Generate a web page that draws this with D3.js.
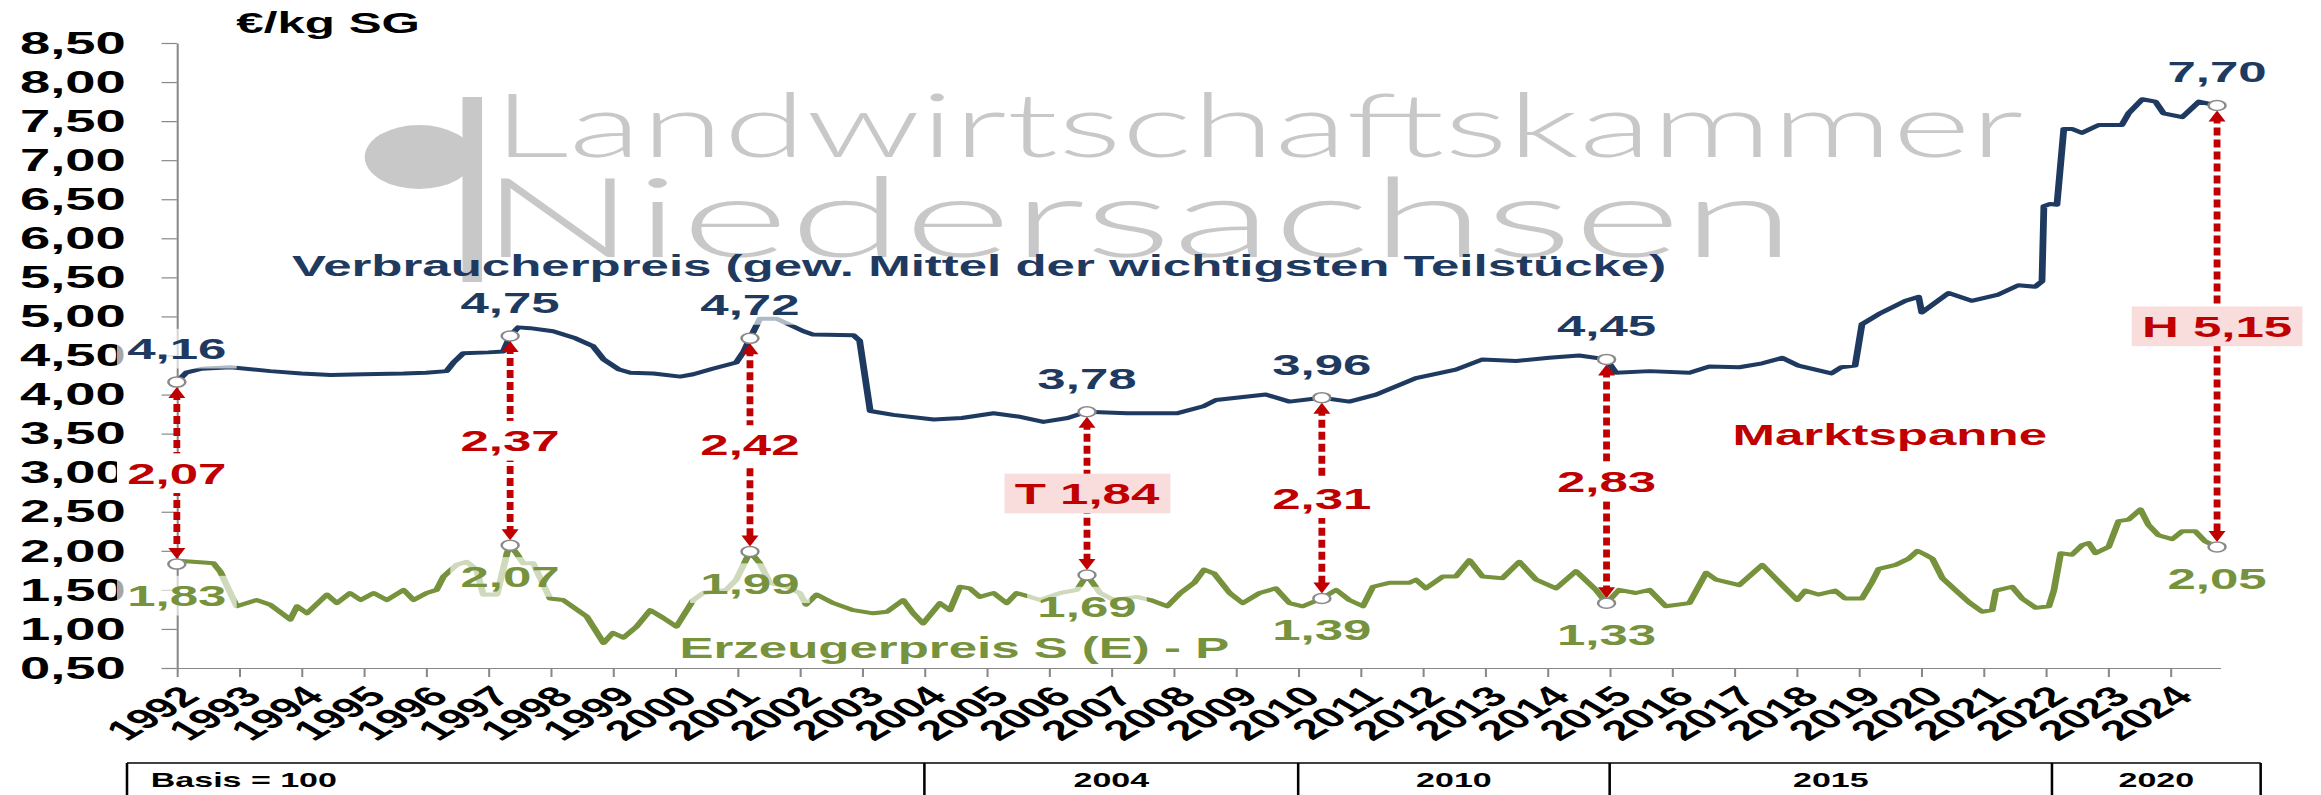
<!DOCTYPE html>
<html>
<head>
<meta charset="utf-8">
<script src="https://cdn.jsdelivr.net/npm/d3@7"></script>
<style>
html, body { margin: 0; padding: 0; background: #fff; overflow: hidden; }
svg { display: block; }
text { font-family: "Liberation Sans", Arial, sans-serif; font-weight: bold; }
</style>
</head>
<body>
<div id="chart"></div>
<script>
// Verbraucherpreis (consumer price), decimal year -> €/kg
const consumerDates = [1992.00, 1992.15, 1992.40, 1992.86, 1993.50, 1994.00, 1994.47, 1995.00, 1995.64, 1996.00,
    1996.33, 1996.44, 1996.60, 1997.00, 1997.24, 1997.35, 1997.48, 1997.67, 1998.04, 1998.40,
    1998.68, 1998.85, 1999.10, 1999.28, 1999.65, 2000.08, 2000.29, 2000.60, 2000.98, 2001.10,
    2001.20, 2001.36, 2001.63, 2002.06, 2002.21, 2002.86, 2002.96, 2003.13, 2003.50, 2004.15,
    2004.60, 2005.11, 2005.50, 2005.91, 2006.30, 2006.61, 2007.25, 2008.05, 2008.48, 2008.68,
    2009.48, 2009.86, 2010.38, 2010.82, 2011.25, 2011.89, 2012.53, 2012.96, 2013.50, 2014.03,
    2014.51, 2014.95, 2015.10, 2015.64, 2016.28, 2016.60, 2017.08, 2017.45, 2017.77, 2018.03,
    2018.56, 2018.72, 2018.94, 2019.05, 2019.32, 2019.75, 2019.96, 2020.01, 2020.44, 2020.81,
    2021.24, 2021.56, 2021.83, 2021.94, 2021.97, 2022.07, 2022.18, 2022.29, 2022.42, 2022.58,
    2022.85, 2023.22, 2023.33, 2023.55, 2023.76, 2023.89, 2024.19, 2024.46, 2024.75]
const consumerPrices = [4.16, 4.28, 4.33, 4.35, 4.30, 4.27, 4.25, 4.26, 4.27, 4.28,
    4.30, 4.41, 4.53, 4.54, 4.55, 4.75, 4.86, 4.85, 4.81, 4.72,
    4.62, 4.45, 4.32, 4.28, 4.27, 4.23, 4.26, 4.33, 4.41, 4.55,
    4.72, 4.97, 4.97, 4.81, 4.77, 4.76, 4.69, 3.79, 3.74, 3.68,
    3.70, 3.76, 3.72, 3.65, 3.70, 3.78, 3.76, 3.76, 3.85, 3.93,
    4.00, 3.91, 3.96, 3.91, 4.00, 4.21, 4.32, 4.45, 4.43, 4.47,
    4.50, 4.45, 4.28, 4.30, 4.28, 4.36, 4.35, 4.40, 4.47, 4.37,
    4.27, 4.35, 4.37, 4.90, 5.03, 5.20, 5.25, 5.05, 5.30, 5.20,
    5.28, 5.40, 5.38, 5.45, 6.41, 6.44, 6.43, 7.40, 7.40, 7.35,
    7.45, 7.45, 7.60, 7.78, 7.75, 7.60, 7.55, 7.75, 7.70]

// Erzeugerpreis S (E) - P (producer price)
const producerDates = [1992.00, 1992.08, 1992.43, 1992.59, 1992.70, 1992.96, 1993.28, 1993.50, 1993.82, 1993.93,
    1994.09, 1994.41, 1994.57, 1994.78, 1994.95, 1995.16, 1995.37, 1995.64, 1995.80, 1996.01,
    1996.17, 1996.28, 1996.49, 1996.65, 1996.81, 1996.92, 1997.14, 1997.30, 1997.35, 1997.46,
    1997.56, 1997.72, 1997.99, 1998.20, 1998.58, 1998.85, 1999.00, 1999.17, 1999.38, 1999.60,
    1999.81, 2000.02, 2000.29, 2000.45, 2000.82, 2000.98, 2001.14, 2001.20, 2001.36, 2001.52,
    2001.78, 2002.00, 2002.10, 2002.27, 2002.54, 2002.86, 2003.18, 2003.40, 2003.66, 2003.82,
    2003.98, 2004.25, 2004.41, 2004.57, 2004.73, 2004.89, 2005.11, 2005.32, 2005.48, 2005.70,
    2005.86, 2006.18, 2006.45, 2006.61, 2006.82, 2007.04, 2007.41, 2007.63, 2007.90, 2008.11,
    2008.33, 2008.49, 2008.65, 2008.90, 2009.11, 2009.38, 2009.64, 2009.86, 2010.07, 2010.38,
    2010.61, 2010.82, 2011.04, 2011.20, 2011.46, 2011.78, 2011.89, 2012.05, 2012.32, 2012.53,
    2012.75, 2012.96, 2013.28, 2013.55, 2013.82, 2014.14, 2014.46, 2014.78, 2014.95, 2015.15,
    2015.42, 2015.64, 2015.90, 2016.28, 2016.55, 2016.71, 2017.08, 2017.45, 2017.72, 2018.01,
    2018.14, 2018.35, 2018.62, 2018.78, 2019.05, 2019.21, 2019.32, 2019.59, 2019.80, 2019.94,
    2020.07, 2020.18, 2020.34, 2020.56, 2020.77, 2020.98, 2021.14, 2021.20, 2021.46, 2021.62,
    2021.84, 2022.05, 2022.13, 2022.24, 2022.42, 2022.58, 2022.69, 2022.80, 2023.01, 2023.17,
    2023.33, 2023.52, 2023.65, 2023.81, 2024.03, 2024.19, 2024.40, 2024.56, 2024.75]
const producerPrices = [1.83, 1.87, 1.85, 1.84, 1.73, 1.29, 1.37, 1.31, 1.12, 1.29,
    1.20, 1.44, 1.33, 1.46, 1.37, 1.46, 1.37, 1.50, 1.37, 1.46,
    1.50, 1.67, 1.82, 1.86, 1.76, 1.44, 1.44, 1.97, 2.07, 1.96,
    1.84, 1.84, 1.39, 1.37, 1.16, 0.82, 0.95, 0.89, 1.03, 1.24,
    1.14, 1.03, 1.37, 1.46, 1.50, 1.63, 1.89, 1.99, 1.84, 1.59,
    1.54, 1.46, 1.31, 1.44, 1.33, 1.24, 1.20, 1.22, 1.37, 1.20,
    1.07, 1.33, 1.24, 1.54, 1.52, 1.41, 1.46, 1.33, 1.46, 1.41,
    1.37, 1.46, 1.50, 1.69, 1.46, 1.37, 1.41, 1.37, 1.29, 1.46,
    1.59, 1.76, 1.71, 1.46, 1.33, 1.46, 1.52, 1.33, 1.29, 1.39,
    1.50, 1.37, 1.29, 1.54, 1.59, 1.59, 1.63, 1.52, 1.67, 1.67,
    1.88, 1.67, 1.65, 1.86, 1.63, 1.52, 1.74, 1.50, 1.33, 1.50,
    1.46, 1.50, 1.29, 1.33, 1.72, 1.63, 1.56, 1.82, 1.60, 1.37,
    1.49, 1.44, 1.49, 1.39, 1.39, 1.60, 1.77, 1.82, 1.90, 2.00,
    1.95, 1.90, 1.65, 1.49, 1.34, 1.22, 1.24, 1.49, 1.54, 1.39,
    1.27, 1.29, 1.49, 1.97, 1.95, 2.07, 2.10, 1.97, 2.05, 2.38,
    2.40, 2.53, 2.33, 2.20, 2.15, 2.25, 2.25, 2.12, 2.05]

// marked points with the Marktspanne between both prices
const markDates = [1992.00, 1997.35, 2001.20, 2006.61, 2010.38, 2014.95, 2024.75]
const markConsumer = [4.16, 4.75, 4.72, 3.78, 3.96, 4.45, 7.70]
const markProducer = [1.83, 2.07, 1.99, 1.69, 1.39, 1.33, 2.05]
const markSpan = ['2,07', '2,37', '2,42', 'T 1,84', '2,31', '2,83', 'H 5,15']
const markHighlight = [false, false, false, true, false, false, true]

const yearTicks = d3.range(1992, 2025)
const priceTicks = d3.range(0.5, 8.51, 0.5)

const tableLabels = ['Basis = 100', '2004', '2010', '2015', '2020']
const tableBreaks = [1991.2, 2004, 2010, 2015, 2022.1, 2025.45]

const navy = '#1f3a60'
const green = '#76923c'
const red = '#c00000'

// the source picture is stretched sideways, so draw narrow and stretch the svg
const fullW = 2321, fullH = 795
const innerW = 1365

const svg = d3.select('#chart')
    .append('svg')
    .attr('width', fullW)
    .attr('height', fullH)
    .attr('viewBox', `0 0 ${innerW} ${fullH}`)
    .attr('preserveAspectRatio', 'none')

let x = d3.scaleLinear().domain([1992, 2024.8]).range([104, 1305.7])
let y = d3.scaleLinear().domain([0.5, 8.5]).range([668, 43])

const fmt = d3.formatLocale({
    decimal: ',',
    thousands: '.',
    grouping: [3],
    currency: ['', '€']
}).format('.2f')

// watermark
let wm = svg.append('g').attr('fill', '#c8c8c8')
wm.append('circle').attr('cx', 246.5).attr('cy', 157).attr('r', 32)
wm.append('rect').attr('x', 272).attr('y', 97).attr('width', 11.5).attr('height', 185)
wm.append('text')
    .attr('x', 290).attr('y', 157)
    .attr('textLength', 900).attr('lengthAdjust', 'spacingAndGlyphs')
    .style('font-family', 'Lato, "Open Sans", sans-serif')
    .style('font-weight', 300)
    .style('font-size', '88px')
    .text('Landwirtschaftskammer')
wm.append('text')
    .attr('x', 282).attr('y', 257)
    .attr('textLength', 774).attr('lengthAdjust', 'spacingAndGlyphs')
    .style('font-family', 'Lato, "Open Sans", sans-serif')
    .style('font-weight', 300)
    .style('font-size', '111px')
    .text('Niedersachsen')

// axes
let yAxis = svg.append('g')
    .attr('transform', `translate(${x(1992)},0)`)
    .call(d3.axisLeft(y).tickValues(priceTicks).tickSize(9).tickSizeOuter(0).tickPadding(21).tickFormat(fmt))
yAxis.selectAll('text')
    .style('font-size', '32px')
    .attr('fill', '#000')
    .attr('font-family', null)

let xAxis = svg.append('g')
    .attr('transform', `translate(0,${y(0.5)})`)
    .call(d3.axisBottom(x).tickValues(yearTicks).tickSize(9).tickSizeOuter(0).tickFormat(d3.format('d')))
xAxis.selectAll('text')
    .style('font-size', '28px')
    .attr('fill', '#000')
    .attr('font-family', null)
    .attr('text-anchor', 'end')
    .attr('y', 0)
    .attr('dy', '0.35em')
    .attr('transform', 'translate(7,23) rotate(-45)')

svg.selectAll('.domain, .tick line').attr('stroke', '#888').attr('stroke-width', 1.2)

svg.append('text')
    .attr('x', 139).attr('y', 33)
    .style('font-size', '29px')
    .text('€/kg SG')

// table under the axis
let table = svg.append('g')
table.append('line')
    .attr('x1', x(tableBreaks[0])).attr('x2', x(tableBreaks[tableBreaks.length - 1]))
    .attr('y1', 763).attr('y2', 763)
    .attr('stroke', '#000').attr('stroke-width', 1.5)
table.selectAll('.cellLine')
    .data(tableBreaks)
    .join('line')
    .attr('x1', d => x(d)).attr('x2', d => x(d))
    .attr('y1', 763).attr('y2', 800)
    .attr('stroke', '#000').attr('stroke-width', 1.5)
table.selectAll('.cellText')
    .data(tableLabels)
    .join('text')
    .attr('x', (d, i) => i == 0 ? x(tableBreaks[0]) + 14 : (x(tableBreaks[i]) + x(tableBreaks[i + 1])) / 2)
    .attr('y', 787)
    .attr('text-anchor', (d, i) => i == 0 ? 'start' : 'middle')
    .style('font-size', '20px')
    .text(d => d)

// price lines
let line = d3.line()
    .x(d => x(d[0]))
    .y(d => y(d[1]))

svg.append('path')
    .datum(d3.zip(consumerDates, consumerPrices))
    .attr('d', line)
    .attr('fill', 'none')
    .attr('stroke', navy)
    .attr('stroke-width', 4)
    .attr('stroke-linejoin', 'round')

svg.append('path')
    .datum(d3.zip(producerDates, producerPrices))
    .attr('d', line)
    .attr('fill', 'none')
    .attr('stroke', green)
    .attr('stroke-width', 4)
    .attr('stroke-linejoin', 'round')

let marks = markDates.map((d, i) => ({
    date: d,
    consumer: markConsumer[i],
    producer: markProducer[i],
    span: markSpan[i],
    highlight: markHighlight[i]
}))

// dashed double arrows for the Marktspanne
let arrows = svg.append('g')
arrows.selectAll('line')
    .data(marks)
    .join('line')
    .attr('x1', d => x(d.date)).attr('x2', d => x(d.date))
    .attr('y1', d => y(d.consumer) + 10)
    .attr('y2', d => y(d.producer) - 10)
    .attr('stroke', red)
    .attr('stroke-width', 4)
    .attr('stroke-dasharray', '8,4')
arrows.selectAll('.headUp')
    .data(marks)
    .join('path')
    .attr('d', d => {
        let cx = x(d.date), cy = y(d.consumer) + 5
        return `M${cx},${cy} L${cx - 5},${cy + 11} L${cx + 5},${cy + 11} Z`
    })
    .attr('fill', red)
arrows.selectAll('.headDown')
    .data(marks)
    .join('path')
    .attr('d', d => {
        let cx = x(d.date), cy = y(d.producer) - 5
        return `M${cx},${cy} L${cx - 5},${cy - 11} L${cx + 5},${cy - 11} Z`
    })
    .attr('fill', red)

// little circles on both lines
let dots = svg.append('g')
marks.forEach(d => {
    [d.consumer, d.producer].forEach(v => {
        dots.append('circle')
            .attr('cx', x(d.date))
            .attr('cy', y(v))
            .attr('r', 5)
            .attr('fill', '#fff')
            .attr('stroke', '#8a8a8a')
            .attr('stroke-width', 1.5)
    })
})

// labels with a box behind them
function boxedLabel(g, px, py, txt, colour, boxFill, boxOpacity) {
    let box = g.append('rect')
    let t = g.append('text')
        .attr('x', px).attr('y', py)
        .attr('text-anchor', 'middle')
        .style('font-size', '30px')
        .attr('fill', colour)
        .text(txt)
    let b = t.node().getBBox()
    box.attr('x', b.x - 6).attr('y', b.y - 3)
        .attr('width', b.width + 12).attr('height', b.height + 6)
        .attr('fill', boxFill)
        .attr('opacity', boxOpacity)
}

let labels = svg.append('g')
marks.forEach(d => {
    let cx = x(d.date)
    boxedLabel(labels, cx, y(d.consumer) - 23, fmt(d.consumer), navy, '#fff', 0.65)
    boxedLabel(labels, cx, y(d.producer) + 42, fmt(d.producer), green, '#fff', 0.65)
    let mid = (y(d.consumer) + y(d.producer)) / 2 + 10.5
    boxedLabel(labels, cx, mid, d.span, red, d.highlight ? '#f9dcdc' : '#fff', 1)
})

// series names
svg.append('text')
    .attr('x', 171.7).attr('y', 276)
    .style('font-size', '30px')
    .attr('fill', navy)
    .text('Verbraucherpreis (gew. Mittel der wichtigsten Teilstücke)')
svg.append('text')
    .attr('x', 399.6).attr('y', 658)
    .style('font-size', '30px')
    .attr('fill', green)
    .text('Erzeugerpreis S (E) - P')
svg.append('text')
    .attr('x', 1018.9).attr('y', 445)
    .style('font-size', '30px')
    .attr('fill', red)
    .text('Marktspanne')
</script>
</body>
</html>
